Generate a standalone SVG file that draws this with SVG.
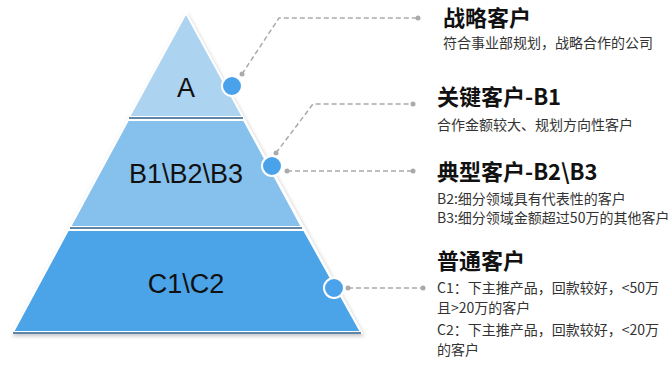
<svg xmlns="http://www.w3.org/2000/svg" width="672" height="365" viewBox="0 0 672 365">
<defs>
<filter id="sh" x="-10%" y="-10%" width="120%" height="120%">
<feGaussianBlur in="SourceAlpha" stdDeviation="2"/>
<feOffset dx="1" dy="2"/>
<feComponentTransfer><feFuncA type="linear" slope="0.25"/></feComponentTransfer>
<feMerge><feMergeNode/><feMergeNode in="SourceGraphic"/></feMerge>
</filter>
</defs>
<style>
.tier{stroke:#ffffff;stroke-width:2;stroke-linejoin:round}
.sep{stroke:#5f86a6;stroke-width:2}
.lbl{font-family:"Liberation Sans",Arial,sans-serif;font-size:27px;fill:#111;text-anchor:middle}
.dot{fill:#4aa3ea;stroke:#ffffff;stroke-width:2}
.con{fill:none;stroke:#aaaaaa;stroke-width:1.5;stroke-dasharray:5 3}
.end{fill:#aaaaaa}
.t{font-family:"Noto Sans CJK SC","Noto Sans",sans-serif;font-weight:bold;font-size:22px;fill:#111}
.s{font-family:"Noto Sans CJK SC","Noto Sans",sans-serif;font-size:14px;fill:#333}
</style>
<g id="pyramid" filter="url(#sh)">
<polygon points="186,12 363,334 11,334" fill="#ffffff"/>
</g>
<g id="tierA">
<polygon class="tier" points="186,13 243,117 129,117" fill="#acd3f0"/>
<line class="sep" x1="129" y1="118" x2="243" y2="118"/>
<text class="lbl" x="186" y="97">A</text>
</g>
<g id="tierB">
<polygon class="tier" points="128,120 244,120 302,227 70,227" fill="#86c0ec"/>
<line class="sep" x1="70" y1="228" x2="302" y2="228"/>
<text class="lbl" x="186" y="183">B1\B2\B3</text>
</g>
<g id="tierC">
<polygon class="tier" points="68,230 304,230 361,332 13,332" fill="#4ba3e8"/>
<line class="sep" x1="13" y1="333" x2="361" y2="333"/>
<text class="lbl" x="186" y="293">C1\C2</text>
</g>
<g id="connectors">
<polyline class="con" points="242,74 279,18 418,18"/>
<circle class="end" cx="242" cy="74" r="2.5"/>
<circle class="end" cx="418" cy="18" r="2.5"/>
<polyline class="con" points="276,153 313,104 413,104"/>
<circle class="end" cx="276" cy="153" r="2.5"/>
<circle class="end" cx="413" cy="104" r="2.5"/>
<line class="con" x1="287" y1="171" x2="413" y2="171"/>
<circle class="end" cx="287" cy="171" r="2.5"/>
<circle class="end" cx="413" cy="171" r="2.5"/>
<line class="con" x1="348" y1="288" x2="423" y2="288"/>
<circle class="end" cx="348" cy="288" r="2.5"/>
<circle class="end" cx="423" cy="288" r="2.5"/>
</g>
<g id="dotA"><circle class="dot" cx="232" cy="86" r="10"/></g>
<g id="dotB"><circle class="dot" cx="272" cy="166" r="10"/></g>
<g id="dotC"><circle class="dot" cx="334" cy="288" r="10"/></g>
<g id="labelA">
<text class="t" x="443" y="26">战略客户</text>
<text class="s" x="443" y="48">符合事业部规划，战略合作的公司</text>
</g>
<g id="labelB1">
<text class="t" x="437" y="105">关键客户-B1</text>
<text class="s" x="437" y="130">合作金额较大、规划方向性客户</text>
</g>
<g id="labelB23">
<text class="t" x="437" y="180">典型客户-B2\B3</text>
<text class="s" x="437" y="204">B2:细分领域具有代表性的客户</text>
<text class="s" x="437" y="223">B3:细分领域金额超过50万的其他客户</text>
</g>
<g id="labelC">
<text class="t" x="437" y="269">普通客户</text>
<text class="s" x="437" y="293">C1：下主推产品，回款较好，&lt;50万</text>
<text class="s" x="437" y="313">且&gt;20万的客户</text>
<text class="s" x="437" y="335">C2：下主推产品，回款较好，&lt;20万</text>
<text class="s" x="437" y="355">的客户</text>
</g>
</svg>
